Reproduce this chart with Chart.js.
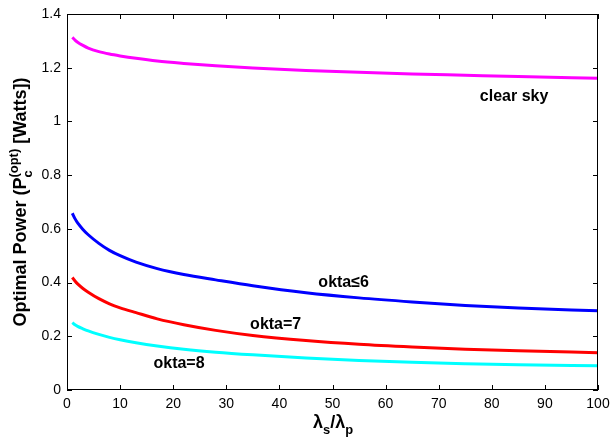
<!DOCTYPE html>
<html>
<head>
<meta charset="utf-8">
<script src="https://cdn.jsdelivr.net/npm/chart.js@4"></script>
<style>
  html, body { margin: 0; padding: 0; background: #fff; }
  #wrap { width: 610px; height: 439px; }
</style>
</head>
<body>
<div id="wrap"><canvas id="powerChart" width="610" height="439"></canvas></div>
<script>
// datos
const ratio = [1, 1.5, 2, 3, 4, 6, 8, 10, 13, 17, 22, 28, 35, 45, 55, 65, 75, 85, 100];
const clearSky = [1.313, 1.303, 1.295, 1.283, 1.273, 1.260, 1.251, 1.244, 1.235, 1.225, 1.216, 1.207, 1.199, 1.190, 1.183, 1.177, 1.172, 1.167, 1.161];
const okta6 = [0.658, 0.638, 0.622, 0.598, 0.578, 0.546, 0.520, 0.500, 0.476, 0.452, 0.430, 0.410, 0.388, 0.362, 0.343, 0.328, 0.315, 0.305, 0.295];
const okta7 = [0.419, 0.406, 0.395, 0.378, 0.364, 0.340, 0.321, 0.306, 0.288, 0.265, 0.243, 0.222, 0.203, 0.184, 0.170, 0.160, 0.152, 0.146, 0.139];
const okta8 = [0.251, 0.243, 0.237, 0.228, 0.220, 0.207, 0.196, 0.187, 0.176, 0.164, 0.152, 0.141, 0.131, 0.119, 0.110, 0.103, 0.098, 0.094, 0.090];
const xTicks = [0, 10, 20, 30, 40, 50, 60, 70, 80, 90, 100];
const yTicks = [0, 0.2, 0.4, 0.6, 0.8, 1, 1.2, 1.4];

// etiquetas sobre las curvas (posición en datos)
const curveLabels = [
    { text: 'clear sky', x: 84.2, y: 1.093 },
    { text: 'okta\u22646', x: 52.1, y: 0.40 },
    { text: 'okta=7', x: 39.3, y: 0.243 },
    { text: 'okta=8', x: 21.1, y: 0.10 }
];

const FONT = "'Liberation Sans', Arial, Helvetica, sans-serif";
const toPoints = (vals) => ratio.map((x, i) => ({ x: x, y: vals[i] }));

function series(label, vals, color) {
    return {
        label: label,
        data: toPoints(vals),
        borderColor: color,
        backgroundColor: color,
        borderWidth: 3,
        pointRadius: 0,
        cubicInterpolationMode: 'monotone',
        fill: false
    };
}

// dibuja texto con sub/superíndices (stack = mismo x que el anterior)
function drawRich(ctx, parts, size) {
    const fontOf = (p) => `bold ${p.small ? size * 0.72 : size}px ${FONT}`;
    let total = 0;
    let prevW = 0;
    parts.forEach(p => {
        ctx.font = fontOf(p);
        p.w = ctx.measureText(p.t).width;
        if (p.stack) { total += Math.max(0, p.w - prevW); prevW = Math.max(prevW, p.w); }
        else { total += p.w; prevW = p.w; }
    });
    let x = -total / 2;
    let lastX = x;
    prevW = 0;
    parts.forEach(p => {
        ctx.font = fontOf(p);
        const dy = p.sub ? size * 0.35 : (p.sup ? -size * 0.45 : 0);
        if (p.stack) {
            ctx.fillText(p.t, lastX, dy);
            if (p.w > prevW) { x = lastX + p.w; prevW = p.w; }
        } else {
            ctx.fillText(p.t, x, dy);
            lastX = x;
            prevW = p.w;
            x += p.w;
        }
    });
}

const framePlugin = {
    id: 'frame',
    afterDraw(chart) {
        const { ctx, chartArea: a, scales } = chart;
        ctx.save();
        ctx.strokeStyle = '#000';
        ctx.lineWidth = 1;
        ctx.strokeRect(a.left + 0.5, a.top + 0.5, a.right - a.left - 1, a.bottom - a.top - 1);
        ctx.beginPath();
        const tl = 5;
        xTicks.forEach(v => {
            const px = Math.round(scales.x.getPixelForValue(v)) + 0.5;
            ctx.moveTo(px, a.bottom); ctx.lineTo(px, a.bottom - tl);
            ctx.moveTo(px, a.top); ctx.lineTo(px, a.top + tl);
        });
        yTicks.forEach(v => {
            const py = Math.round(scales.y.getPixelForValue(v)) + 0.5;
            ctx.moveTo(a.left, py); ctx.lineTo(a.left + tl, py);
            ctx.moveTo(a.right, py); ctx.lineTo(a.right - tl, py);
        });
        ctx.stroke();

        // etiquetas de curvas
        ctx.fillStyle = '#000';
        ctx.textAlign = 'center';
        ctx.textBaseline = 'middle';
        ctx.font = `bold 16px ${FONT}`;
        curveLabels.forEach(l => {
            ctx.fillText(l.text, scales.x.getPixelForValue(l.x), scales.y.getPixelForValue(l.y));
        });

        // título eje y
        ctx.textAlign = 'left';
        ctx.textBaseline = 'alphabetic';
        ctx.save();
        ctx.translate(26, 202);
        ctx.rotate(-Math.PI / 2);
        drawRich(ctx, [
            { t: 'Optimal Power (P' },
            { t: 'c', small: true, sub: true },
            { t: '(opt)', small: true, sup: true, stack: true },
            { t: ' [Watts])' }
        ], 18);
        ctx.restore();

        // título eje x
        ctx.save();
        ctx.translate(333, 428);
        drawRich(ctx, [
            { t: '\u03bb' },
            { t: 's', small: true, sub: true },
            { t: '/\u03bb' },
            { t: 'p', small: true, sub: true }
        ], 18);
        ctx.restore();
        ctx.restore();
    }
};

new Chart(document.getElementById('powerChart'), {
    type: 'line',
    data: {
        datasets: [
            series('clear sky', clearSky, '#ff00ff'),
            series('okta<=6', okta6, '#0000ff'),
            series('okta=7', okta7, '#ff0000'),
            series('okta=8', okta8, '#00ffff')
        ]
    },
    options: {
        responsive: false,
        animation: false,
        layout: { padding: { top: 14, right: 12, left: 0, bottom: 0 } },
        plugins: { legend: { display: false }, tooltip: { enabled: false } },
        scales: {
            x: {
                type: 'linear',
                min: 0, max: 100,
                afterFit: (s) => { s.height = 49; s.paddingLeft = 0; s.paddingRight = 0; },
                afterBuildTicks: (s) => { s.ticks = xTicks.map(v => ({ value: v })); },
                grid: { display: false, drawTicks: false },
                border: { display: false },
                ticks: { color: '#000', padding: 6, maxRotation: 0, font: { family: FONT, size: 14 } }
            },
            y: {
                type: 'linear',
                min: 0, max: 1.4,
                afterFit: (s) => { s.width = 67; s.paddingTop = 0; s.paddingBottom = 0; },
                afterBuildTicks: (s) => { s.ticks = yTicks.map(v => ({ value: v })); },
                grid: { display: false, drawTicks: false },
                border: { display: false },
                ticks: { color: '#000', padding: 6, font: { family: FONT, size: 14 },
                    callback: (v) => String(Math.round(v * 10) / 10) }
            }
        }
    },
    plugins: [framePlugin]
});
</script>
</body>
</html>
